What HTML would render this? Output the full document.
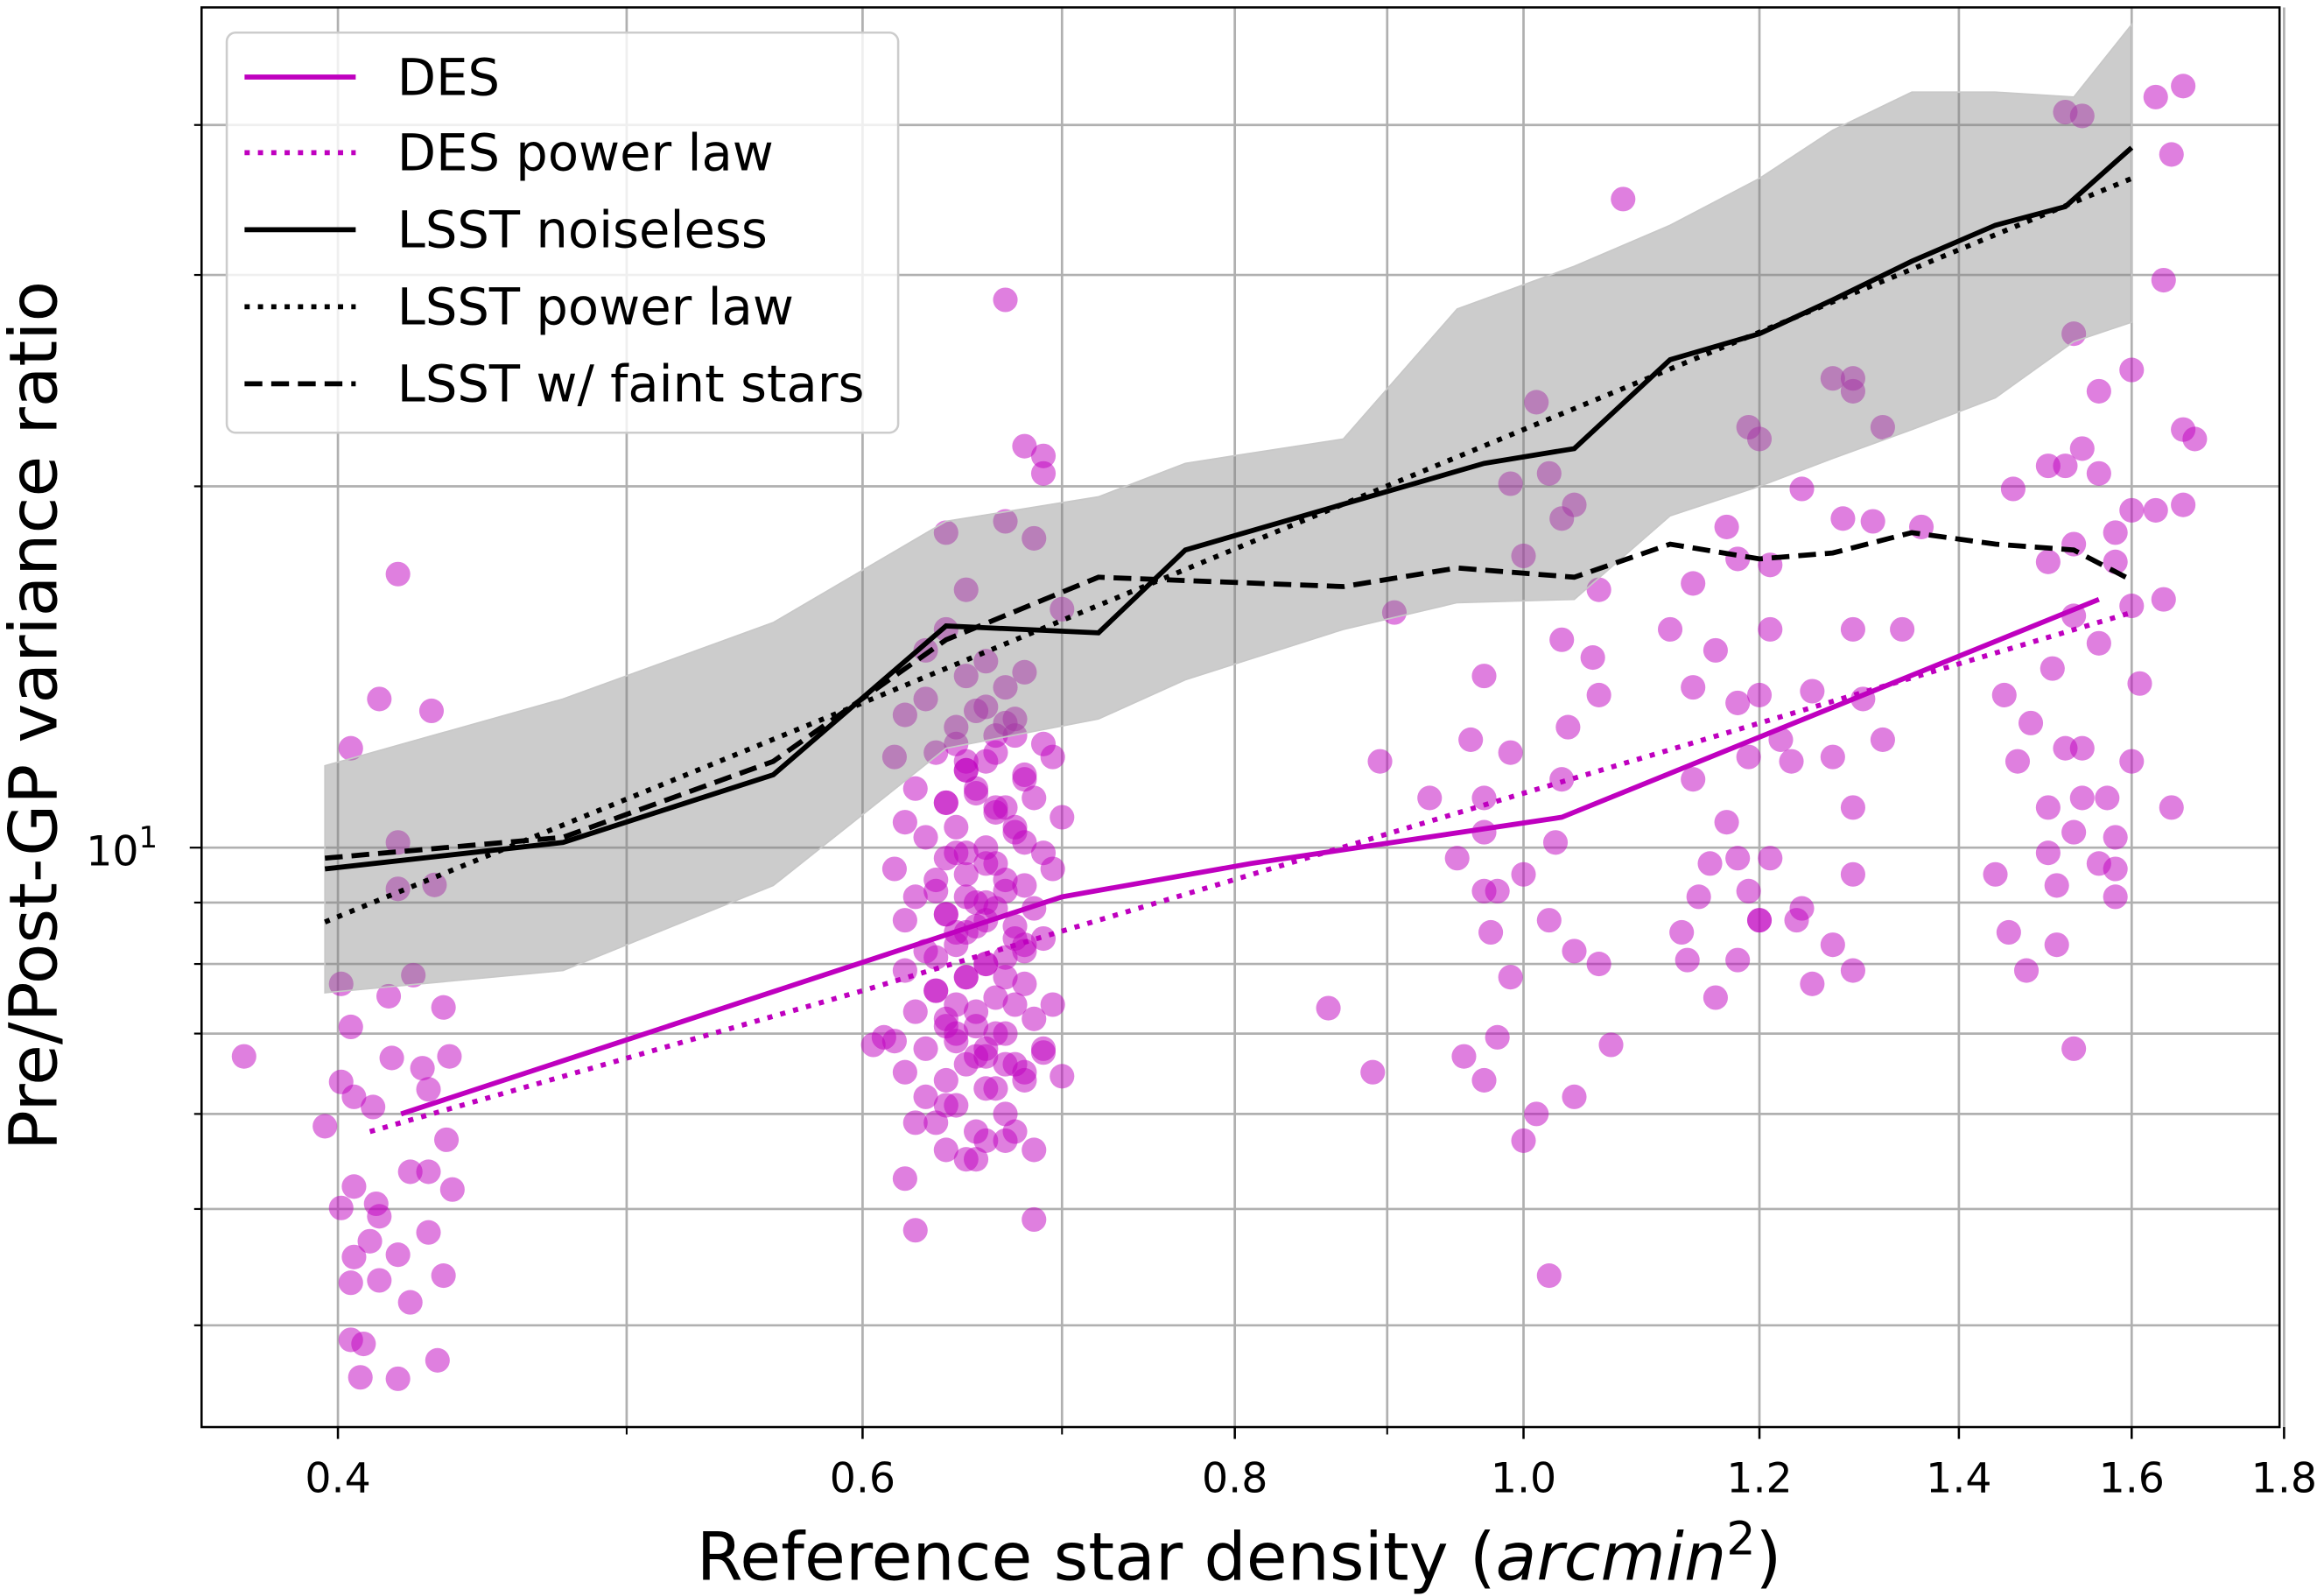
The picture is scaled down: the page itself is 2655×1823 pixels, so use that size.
<!DOCTYPE html>
<html><head><meta charset="utf-8"><style>
html,body{margin:0;padding:0;background:#fff;}
svg{display:block;font-family:"DejaVu Sans","Liberation Sans",sans-serif;}
</style></head><body>
<svg id="chart" width="2655" height="1823" viewBox="0 0 1568 1077" preserveAspectRatio="none" xmlns="http://www.w3.org/2000/svg">
<g id="grid"></g>
<g id="pts"></g>
<g id="band"></g>
<g id="lines"></g>
<g id="axes"></g>
</svg>
<script>
const xTicks=[0.4,0.6,0.8,1.0,1.2,1.4,1.6,1.8];
const xTickLabels=["0.4","0.6","0.8","1.0","1.2","1.4","1.6","1.8"];
const xMinor=[0.5,0.7,0.9];
const yGrid=[4,5,6,7,8,9,10,20,30,40];
const desLineX=[0.42,0.70,0.81,1.03,1.56];
const desLineY=[6.0,9.1,9.7,10.6,16.1];
const desPowX=[0.41,0.6,1.0,1.6];
const desPowY=[5.8,7.6,11.1,15.7];
const lsstX=[0.396,0.476,0.56,0.64,0.72,0.77,0.97,1.04,1.12,1.20,1.27,1.35,1.44,1.52,1.60];
const lsstY=[9.6,10.1,11.5,15.3,15.1,17.7,20.9,21.5,25.5,26.8,28.6,30.8,33.0,34.2,38.3];
const faintX=[0.396,0.476,0.56,0.64,0.72,0.87,0.95,1.04,1.12,1.20,1.27,1.35,1.44,1.53,1.60];
const faintY=[9.8,10.2,11.8,14.9,16.8,16.5,17.1,16.8,17.9,17.4,17.6,18.3,17.9,17.7,16.7];
const lsstPowX=[0.396,0.6,1.0,1.6];
const lsstPowY=[8.67,13.2,22.3,36.1];
const bandX=[0.396,0.476,0.56,0.64,0.72,0.77,0.87,0.95,1.04,1.12,1.20,1.27,1.35,1.44,1.53,1.60];
const bandHi=[11.7,13.3,15.4,18.7,19.6,20.9,21.9,28.1,30.5,33.0,36.1,39.6,42.6,42.6,42.2,48.5];
const bandLo=[7.57,7.9,9.3,12.1,12.8,13.8,15.2,16.0,16.1,18.9,20.0,21.1,22.3,23.7,26.4,27.4];
const ptX=[0.372,0.404,0.413,0.430,0.419,0.419,0.419,0.431,0.424,0.401,0.404,0.416,0.434,0.401,0.417,0.427,0.436,0.405,0.411,0.429,0.435,0.423,0.429,0.405,0.437,0.401,0.412,0.413,0.410,0.429,0.405,0.419,0.404,0.413,0.434,0.423,0.404,0.408,0.432,0.407,0.419,0.396,
0.67,0.68,0.69,0.69,0.67,0.685,0.64,0.65,0.70,0.62,0.625,0.685,0.61,0.605,0.70,0.69,
0.63,0.64,0.65,0.66,0.67,0.68,0.62,0.63,0.645,0.655,0.665,0.675,0.69,0.615,0.635,0.65,0.66,0.68,0.695,0.625,0.64,0.655,0.67,0.685,0.70,0.62,0.63,0.645,0.66,0.675,0.69,0.615,0.64,0.65,0.665,0.68,0.695,0.625,0.635,0.655,0.67,0.685,0.62,0.64,0.65,0.66,0.675,0.69,0.63,0.645,0.66,0.67,0.68,0.62,0.635,0.65,0.665,0.68,0.695,0.625,0.64,0.655,0.67,0.685,0.615,0.63,0.645,0.66,0.675,0.69,0.62,0.64,0.65,0.665,0.68,0.63,0.645,0.66,0.67,0.625,0.64,0.655,0.67,0.685,0.635,0.65,0.66,0.675,0.64,0.655,0.665,0.68,0.645,0.66,0.67,0.65,
0.635,0.645,0.655,0.665,0.675,0.64,0.65,0.66,0.67,0.68,0.635,0.645,0.655,0.665,0.675,0.64,0.65,0.66,0.67,0.68,0.635,0.645,0.655,0.665,0.675,0.64,0.65,0.66,0.67,0.68,0.645,0.655,0.665,0.675,0.65,0.66,
1.04,1.01,1.08,1.01,0.99,1.02,1.04,1.03,1.00,1.06,0.905,1.03,1.055,0.97,1.06,1.03,0.895,0.93,0.97,1.00,1.025,0.95,0.98,0.975,1.02,1.06,1.04,0.97,0.99,0.98,0.86,0.89,0.955,0.97,1.07,1.0,1.02,0.97,0.96,1.035,0.99,
1.20,1.19,1.29,1.32,1.27,1.29,1.20,1.19,1.24,1.28,1.31,1.36,1.17,1.21,1.14,1.18,1.21,1.29,1.34,1.12,1.16,1.20,1.25,1.30,1.14,1.18,1.22,1.27,1.32,1.19,1.23,1.29,1.14,1.17,1.21,1.29,1.155,1.18,1.24,1.20,1.145,1.27,1.13,1.235,1.29,1.18,1.135,1.25,1.16,
1.53,1.65,1.63,1.665,1.52,1.54,1.65,1.64,1.53,1.56,1.60,1.665,1.68,1.46,1.50,1.54,1.52,1.56,1.60,1.63,1.665,1.53,1.58,1.50,1.58,1.64,1.60,1.53,1.56,1.505,1.61,1.45,1.48,1.54,1.60,1.465,1.52,1.57,1.50,1.54,1.58,1.50,1.53,1.58,1.44,1.56,1.51,1.58,1.455,1.51,1.475];
const ptY=[6.70,12.1,13.3,13.0,16.9,10.1,9.24,9.31,7.83,7.70,7.09,7.52,7.36,6.38,6.68,6.55,6.70,6.20,6.08,6.29,5.71,5.37,5.37,5.22,5.19,5.01,5.05,4.93,4.70,4.78,4.56,4.58,4.34,4.36,4.40,4.18,3.89,3.86,3.74,3.62,3.61,5.86,
28.6,21.6,21.2,20.5,18.7,18.1,18.3,16.4,15.8,5.3,4.8,4.9,6.95,6.85,6.45,6.75,
14.6,15.2,13.9,14.3,13.6,14.0,12.9,13.3,12.6,13.0,12.4,12.8,12.2,11.9,12.0,11.6,11.8,11.4,11.9,11.2,10.9,11.1,10.8,11.0,10.6,10.5,10.2,10.4,10.0,10.3,9.9,9.6,9.8,9.5,9.7,9.3,9.6,9.1,9.4,9.0,9.2,8.9,8.7,8.8,8.5,8.7,8.6,8.4,8.2,8.3,8.0,8.1,8.2,7.9,7.6,7.8,7.5,7.7,7.4,7.3,7.2,7.1,7.0,7.2,6.9,6.8,6.9,6.7,6.6,6.8,6.5,6.4,6.6,6.3,6.5,6.2,6.1,6.3,6.0,5.9,6.1,5.8,5.7,5.6,5.9,5.5,5.7,5.8,5.6,5.5,10.7,11.5,12.2,9.0,12.7,9.9,8.1,7.4,
11.2,10.8,10.4,10.9,11.6,9.7,9.4,10.1,9.2,9.9,8.6,8.9,8.4,8.8,9.1,8.0,7.8,8.3,7.6,8.5,7.3,7.0,7.4,7.1,7.8,6.8,6.6,6.4,7.0,6.7,12.0,12.4,11.8,13.1,6.2,6.0,
34.7,23.5,20.1,20.5,19.3,18.8,17.5,16.4,15.7,14.9,14.4,13.9,13.4,11.4,11.8,11.0,11.0,9.5,10.1,9.8,9.2,8.5,8.7,8.0,8.2,9.2,7.8,6.95,7.35,6.5,6.7,6.4,6.85,5.7,4.4,10.3,12.3,12.6,12.0,8.7,9.2,
24.0,22.4,24.6,24.6,21.9,22.4,19.9,18.8,18.7,18.5,18.5,17.2,16.6,17.4,15.2,15.2,15.2,15.2,14.6,13.4,13.5,13.3,13.6,13.2,12.3,11.9,12.3,11.9,11.8,10.8,11.4,10.5,9.8,9.5,9.7,9.8,8.9,8.7,9.1,8.3,8.5,8.7,7.9,8.06,8.06,7.7,7.5,6.8,10.8,
42.2,43.1,41.0,40.7,37.8,29.7,26.8,24.0,25.0,22.3,21.9,19.9,20.8,21.5,20.8,20.5,19.1,19.1,19.3,17.9,18.3,17.3,17.3,16.1,15.9,15.6,14.8,14.1,13.7,13.4,12.7,12.1,11.8,11.8,12.1,11.0,10.8,11.0,10.2,9.9,10.3,9.6,9.5,9.7,9.3,9.1,8.5,8.3,7.9,7.8,7.5];

const X0=136,X1=1538,Y0=5,Y1=963;
function xs(v){return 228+873*Math.log(v/0.4);}
function ys(v){return 572-810*Math.log10(v/10);}
const NS="http://www.w3.org/2000/svg";
function mk(tag,attrs,parent){const e=document.createElementNS(NS,tag);for(const k in attrs)e.setAttribute(k,attrs[k]);parent.appendChild(e);return e;}
const grid=document.getElementById('grid');
xTicks.concat(xMinor).forEach(v=>{const l=mk('line',{x1:xs(v),x2:xs(v),y1:Y0,y2:Y1,stroke:'#b0b0b0','stroke-width':1.6},grid);

});
yGrid.forEach(v=>{const l=mk('line',{x1:X0,x2:X1,y1:ys(v),y2:ys(v),stroke:'#b0b0b0','stroke-width':1.6},grid);

});
const pts=document.getElementById('pts');
for(let i=0;i<ptX.length;i++){const c=mk('circle',{cx:xs(ptX[i]),cy:ys(ptY[i]),r:8.3,fill:'#bf00bf','fill-opacity':0.5},pts);

}
const band=document.getElementById('band');
let d='M'+bandX.map((x,i)=>xs(x)+','+ys(bandHi[i])).join(' L')+' L'+bandX.map((x,i)=>xs(x)+','+ys(bandLo[i])).reverse().join(' L')+' Z';
const bp=mk('path',{d:d,fill:'#808080','fill-opacity':0.4,stroke:'#c8c8c8','stroke-width':1},band);


const lines=document.getElementById('lines');
function line(xa,ya,color,dash,name){const p=mk('polyline',{points:xa.map((x,i)=>xs(x)+','+ys(ya[i])).join(' '),fill:'none',stroke:color,'stroke-width':3.4,'stroke-dasharray':dash},lines);

}
line(desLineX,desLineY,'#bf00bf','none','des-line');
line(desPowX,desPowY,'#bf00bf','3.5,5.5','des-power-law');
line(lsstX,lsstY,'#000','none','lsst-noiseless-line');
line(lsstPowX,lsstPowY,'#000','3.5,5.5','lsst-power-law');
line(faintX,faintY,'#000','12,6','lsst-faint-stars-line');
const ax=document.getElementById('axes');
const fr=mk('rect',{x:X0,y:Y0,width:X1-X0,height:Y1-Y0,fill:'none',stroke:'#000','stroke-width':1.5},ax);


xTicks.forEach((v,i)=>{mk('line',{x1:xs(v),x2:xs(v),y1:Y1,y2:Y1+8,stroke:'#000','stroke-width':1.5},ax);
const t=mk('text',{x:xs(v),y:Y1+44,'text-anchor':'middle','font-size':28},ax);t.textContent=xTickLabels[i];

});
xMinor.forEach(v=>mk('line',{x1:xs(v),x2:xs(v),y1:Y1,y2:Y1+5,stroke:'#000','stroke-width':1.2},ax));
yGrid.forEach(v=>mk('line',{x1:X0-(v===10?8:5),x2:X0,y1:ys(v),y2:ys(v),stroke:'#000','stroke-width':1.3},ax));
</script>
<svg style="position:absolute;left:0;top:0" width="2655" height="1823" viewBox="0 0 1568 1077" preserveAspectRatio="none" xmlns="http://www.w3.org/2000/svg">
<text x="58" y="584" font-size="28" font-family="DejaVu Sans, sans-serif">10<tspan dy="-12" font-size="20">1</tspan></text>
<text x="836" y="1066" text-anchor="middle" font-size="45" font-family="DejaVu Sans, sans-serif">Reference star density (<tspan font-style="italic">arcmin</tspan><tspan dy="-17" font-size="31">2</tspan><tspan dy="17">)</tspan></text>
<text transform="translate(38,483) rotate(-90)" text-anchor="middle" font-size="45" font-family="DejaVu Sans, sans-serif">Pre/Post-GP variance ratio</text>
<g>
<rect x="153" y="22" width="453" height="270" rx="6" fill="#fff" fill-opacity="0.8" stroke="#ccc" stroke-width="1.5"/>
<g><line x1="165" x2="240" y1="52" y2="52" stroke="#bf00bf" stroke-width="3.4"/><text x="268" y="64" font-size="34" font-family="DejaVu Sans, sans-serif">DES</text></g>
<g><line x1="165" x2="240" y1="103" y2="103" stroke="#bf00bf" stroke-width="3.4" stroke-dasharray="3.5,5.5"/><text x="268" y="115" font-size="34" font-family="DejaVu Sans, sans-serif">DES power law</text></g>
<g><line x1="165" x2="240" y1="155" y2="155" stroke="#000" stroke-width="3.4"/><text x="268" y="167" font-size="34" font-family="DejaVu Sans, sans-serif">LSST noiseless</text></g>
<g><line x1="165" x2="240" y1="207" y2="207" stroke="#000" stroke-width="3.4" stroke-dasharray="3.5,5.5"/><text x="268" y="219" font-size="34" font-family="DejaVu Sans, sans-serif">LSST power law</text></g>
<g><line x1="165" x2="240" y1="259" y2="259" stroke="#000" stroke-width="3.4" stroke-dasharray="12,6"/><text x="268" y="271" font-size="34" font-family="DejaVu Sans, sans-serif">LSST w/ faint stars</text></g>
</g>
</svg>
</body></html>
